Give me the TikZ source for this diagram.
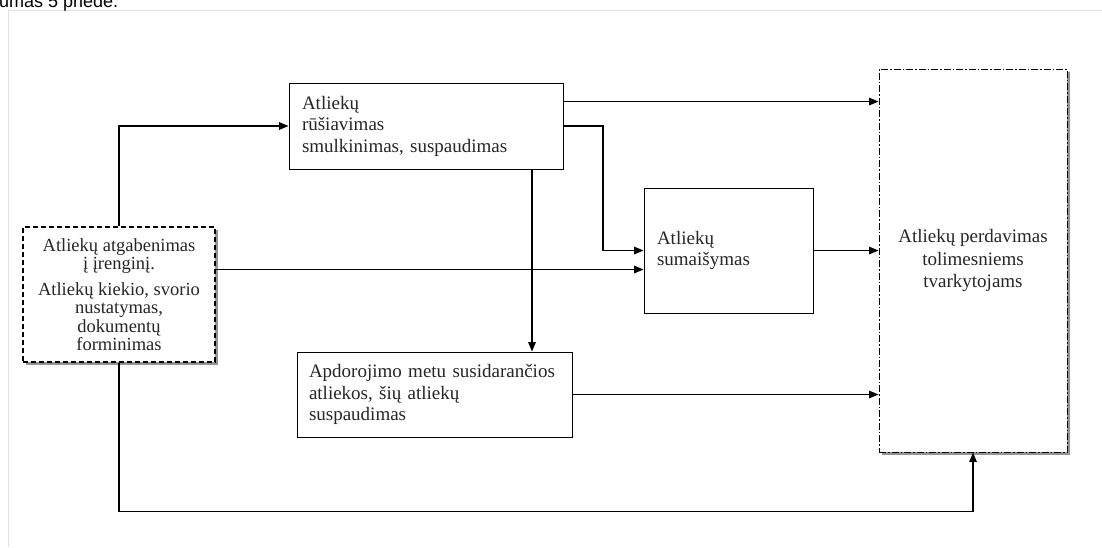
\documentclass[tikz,border=0pt]{standalone}
\usepackage{fontspec}
\setmainfont{Liberation Serif}
\newfontfamily\headfont{Liberation Sans}
\usetikzlibrary{arrows.meta,calc,shadows}

\tikzset{
  box/.style={draw, fill=white, line width=0.9pt, inner ysep=0pt, align=left,
    font=\fontsize{19}{21.5}\selectfont, text=black!85},
  shade box/.style={drop shadow={shadow xshift=3pt, shadow yshift=-3pt, fill=black!60, opacity=0.7}},
  arr/.style={-{Triangle[length=9.5pt,width=7.5pt]}, line width=1.4pt},
}

\begin{document}
\begin{tikzpicture}[x=1pt,y=-1pt]
  \useasboundingbox (0,0) rectangle (1102,547);
  % Page frame and cut heading
  \draw[black!12, line width=1pt] (8,547) -- (8,10) -- (1102,10);
  \begin{scope}
    \clip (0,0) rectangle (1102,547);
    \node[anchor=base west, inner sep=0pt] (head) at (-1,7) {\headfont\fontsize{18pt}{18pt}\selectfont umas 5 priede.};
  \end{scope}
  % Boxes
  \node[box, shade box, align=center, dash pattern=on 5pt off 3pt, line width=1.4pt,
    minimum width=192pt, minimum height=135pt, font=\fontsize{18.5}{18.5}\selectfont]
    (lb) at (119,294.5) {Atliekų atgabenimas\\ į įrenginį.\\[7pt] Atliekų kiekio, svorio\\ nustatymas,\\ dokumentų\\ forminimas};
  \node[box, text width=248pt, inner xsep=13pt, minimum height=86pt]
    (top) at (426,126) {Atliekų\\ rūšiavimas\\ smulkinimas, suspaudimas};
  \node[box, text width=143pt, inner xsep=13pt, minimum height=125pt]
    (mix) at (728.5,250.5) {Atliekų\\ sumaišymas};
  \node[box, text width=251pt, inner xsep=12pt, minimum height=85pt]
    (low) at (434.5,394.5) {Apdorojimo metu susidarančios\\ atliekos, šių atliekų\\ suspaudimas};
  \node[box, shade box, align=center, dash pattern=on 7pt off 2pt on 1.5pt off 2pt,
    minimum width=188pt, minimum height=383pt, font=\fontsize{19}{22.5}\selectfont]
    (rb) at (973,260.5) {Atliekų perdavimas\\ tolimesniems\\ tvarkytojams};
  % Connectors
  \coordinate (bend) at (603,126);
  \draw[arr] (lb.north) |- (top.west);
  \draw[arr] ([yshift=-19pt]top.north east) coordinate (t1) -- (t1 -| rb.west);
  \draw[arr] (top.east) -- (bend) |- (mix.west);
  \draw[arr] ([xshift=106pt]top.south) coordinate (t2) -- (t2 |- low.north);
  \draw[arr] ([yshift=25pt]lb.east) coordinate (l1) -- (l1 -| mix.west);
  \draw[arr] (mix.east) -- (mix.east -| rb.west);
  \draw[arr] (low.east) -- (low.east -| rb.west);
  \draw[arr] (lb.south) -- ++(0,149) -| (rb.south);
\end{tikzpicture}
\end{document}
